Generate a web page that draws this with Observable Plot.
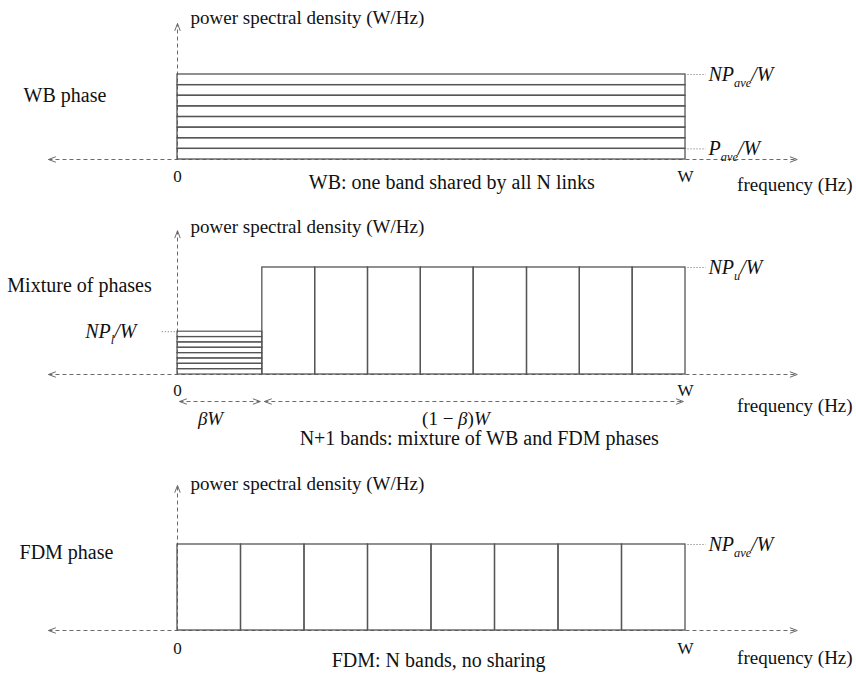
<!DOCTYPE html>
<html><head><meta charset="utf-8">
<script src="https://cdn.jsdelivr.net/npm/d3@7"></script>
<script src="https://cdn.jsdelivr.net/npm/@observablehq/plot@0.6"></script>
<style>
body{margin:0;background:#fff;}
#chart svg{display:block;}
</style></head><body><div id="chart"></div>
<script>
// ---------- data ----------
// frequency is expressed as a fraction of the total bandwidth W (0 .. 1)
// power spectral density levels in units of P/W (N = 8 links)
const wbLevels = [0, 1, 2, 3, 4, 5, 6, 7, 8];                 // WB: 8 stacked equal shares
const mixBeta = 0.167;                                        // beta: fraction of W shared in WB mode
const mixLowLevels = [0, 0.4, 0.8, 1.2, 1.6, 2.0, 2.4, 2.8, 3.2]; // WB part, top = N P_l / W
const mixUpperEdges = [0.167, 0.271, 0.375, 0.479, 0.583, 0.688, 0.792, 0.896, 1]; // FDM part
const mixUpperTop = 8;                                        // N P_u / W
const fdmEdges = [0, 0.125, 0.25, 0.375, 0.5, 0.625, 0.75, 0.875, 1];
const fdmTop = 8;                                             // N P_ave / W
const phaseLabels = ["WB phase", "Mixture of phases", "FDM phase"];
const captions = ["WB: one band shared by all N links", "N+1 bands: mixture of WB and FDM phases", "FDM: N bands, no sharing"];
const tickLabels = ["0", "W"];
const tickValues = [0, 1];
const yTitle = "power spectral density (W/Hz)";
const xTitle = "frequency (Hz)";
const wbRightLabels = [{y: 8, label: "*NP_{ave}/W*"}, {y: 1, label: "*P_{ave}/W*"}];
const mixRightLabels = [{y: 8, label: "*NP_{u}/W*"}];
const mixLeftLabels = [{y: 3.2, label: "*NP_{l}/W*"}];
const fdmRightLabels = [{y: 8, label: "*NP_{ave}/W*"}];
const mixSpanLabels = [{x1: 0, x2: 0.167, label: "*βW*"}, {x1: 0.167, x2: 1, label: "(1 − *β*)*W*"}];

// ---------- style ----------
const LINE = "#555", AXIS = "#6a6a6a", INK = "#111";
const FONT = "Liberation Serif";
const AX_LEFT = -0.254, AX_RIGHT = 1.22;

const pairs = arr => arr.slice(0, -1).map((v, i) => ({a: v, b: arr[i + 1]}));

function baseMarks(yTop, opts) {
  return [
    // horizontal frequency axis (dashed, arrows both ends)
    Plot.link([{x1: AX_LEFT, x2: AX_RIGHT, y: 0}], {x1: "x1", x2: "x2", y1: "y", y2: "y",
      stroke: AXIS, strokeWidth: 1, strokeDasharray: "4,3", markerStart: "arrow", markerEnd: "arrow"}),
    // vertical psd axis
    Plot.link([{x: 0, y1: 0, y2: yTop}], {x1: "x", x2: "x", y1: "y1", y2: "y2",
      stroke: AXIS, strokeWidth: 1, strokeDasharray: "4,3", markerEnd: "arrow"}),
    Plot.text([yTitle], {x: () => 0, y: () => opts.titleY, text: d => d, dx: 13, textAnchor: "start",
      fontSize: 19, fill: INK}),
    Plot.text(tickLabels, {x: (d, i) => tickValues[i], y: () => 0, text: d => d,
      dy: (opts.tickDy), fontSize: 17, fill: INK}),
    Plot.text([xTitle], {x: () => 1.329, y: () => 0, text: d => d, dy: opts.freqDy, textAnchor: "end",
      fontSize: 19, fill: INK}),
    Plot.text([captions[opts.idx]], {x: () => opts.capX, y: () => 0, text: d => d, dy: opts.capDy,
      fontSize: 20, fill: INK}),
    Plot.text([phaseLabels[opts.idx]], {x: () => opts.phaseX, y: () => opts.phaseY, text: d => d,
      textAnchor: "start", fontSize: 20, fill: INK})
  ];
}

function rightLabelMarks(labels) {
  return [
    Plot.link(labels, {x1: () => 1.004, x2: () => 1.04, y1: "y", y2: "y", stroke: AXIS,
      strokeDasharray: "1,2", strokeWidth: 1}),
    Plot.text(labels, {x: () => 1, y: "y", text: "label", dx: 23, textAnchor: "start",
      fontSize: 20, fill: INK})
  ];
}

function makePlot(height, yRange, marks) {
  return Plot.plot({
    width: 856, height,
    marginLeft: 0, marginRight: 0, marginTop: 0, marginBottom: 0,
    x: {domain: [0, 1], range: [177, 685], axis: null},
    y: {domain: [0, 8], range: yRange, axis: null},
    style: {fontFamily: FONT, background: "white", overflow: "visible"},
    marks
  });
}

// ---------- panel 1: WB ----------
const p1 = makePlot(205, [159, 74], [
  ...baseMarks(12.8, {idx: 0, titleY: 13.35, tickDy: 17, freqDy: 25, capX: 0.54, capDy: 23, phaseX: -0.303, phaseY: 6.0}),
  Plot.rect(pairs(wbLevels), {x1: () => 0, x2: () => 1, y1: "a", y2: "b", fill: "none", stroke: LINE, strokeWidth: 1.3}),
  ...rightLabelMarks(wbRightLabels)
]);

// ---------- panel 2: mixture ----------
const p2 = makePlot(250, [169, 62], [
  ...baseMarks(10.75, {idx: 1, titleY: 11.0, tickDy: 16, freqDy: 31, capX: 0.594, capDy: 64, phaseX: -0.335, phaseY: 6.65}),
  Plot.rect(pairs(mixLowLevels), {x1: () => 0, x2: () => mixBeta, y1: "a", y2: "b", fill: "none", stroke: LINE, strokeWidth: 1.2}),
  Plot.rect(pairs(mixUpperEdges), {x1: "a", x2: "b", y1: () => 0, y2: () => mixUpperTop, fill: "none", stroke: LINE, strokeWidth: 1.3}),
  ...rightLabelMarks(mixRightLabels),
  Plot.link(mixLeftLabels, {x1: () => -0.031, x2: () => -0.003, y1: "y", y2: "y", stroke: AXIS, strokeDasharray: "1,2"}),
  Plot.text(mixLeftLabels, {x: () => 0, y: "y", text: "label", dx: -41, textAnchor: "end", fontSize: 20, fill: INK}),
  // span arrows beta W and (1-beta) W
  Plot.link(mixSpanLabels, {x1: d => d.x1 + 0.004, x2: d => d.x2 - 0.004, y1: () => -2.02, y2: () => -2.02,
    stroke: AXIS, strokeDasharray: "4,3", markerStart: "arrow", markerEnd: "arrow"}),
  Plot.text(mixSpanLabels, {x: d => d.x1 === 0 ? 0.065 : 0.548, y: () => 0, text: "label", dy: 44, fontSize: 19, fill: INK})
]);

// ---------- panel 3: FDM ----------
const p3 = makePlot(218, [175, 89], [
  ...baseMarks(13.5, {idx: 2, titleY: 13.67, tickDy: 18, freqDy: 27, capX: 0.514, capDy: 30, phaseX: -0.311, phaseY: 7.26}),
  Plot.rect(pairs(fdmEdges), {x1: "a", x2: "b", y1: () => 0, y2: () => fdmTop, fill: "none", stroke: LINE, strokeWidth: 1.3}),
  ...rightLabelMarks(fdmRightLabels)
]);

const host = document.getElementById("chart");
for (const p of [p1, p2, p3]) host.appendChild(p);

// ---------- post-processing: solid, slimmer arrowheads; italic / subscript markup ----------
d3.selectAll("#chart marker")
  .attr("orient", "auto-start-reverse")
  .attr("stroke-dasharray", "none").attr("stroke-width", 1)
  .attr("viewBox", "-10 -5 12 10").attr("markerWidth", 12).attr("markerHeight", 10)
  .select("path").attr("d", "M-7,-2.6L0,0L-7,2.6");
d3.selectAll("#chart text").each(function () {
  const s = this.textContent;
  if (!/[*_]/.test(s)) return;
  const fs = parseFloat(getComputedStyle(this).fontSize) || 20;
  const el = d3.select(this);
  el.text(null);
  let italic = false, buf = "", shift = 0, i = 0;
  const flush = () => {
    if (!buf) return;
    const t = el.append("tspan").text(buf).attr("font-style", italic ? "italic" : "normal");
    if (shift) { t.attr("dy", -shift); shift = 0; }
    buf = "";
  };
  while (i < s.length) {
    const c = s[i];
    if (c === "*") { flush(); italic = !italic; i++; }
    else if (c === "_" && s[i + 1] === "{") {
      flush();
      const j = s.indexOf("}", i);
      const d = fs * 0.28;
      el.append("tspan").text(s.slice(i + 2, j)).attr("font-style", italic ? "italic" : "normal")
        .attr("font-size", fs * 0.62).attr("dy", d);
      shift = d; i = j + 1;
    } else { buf += c; i++; }
  }
  flush();
});
</script></body></html>
